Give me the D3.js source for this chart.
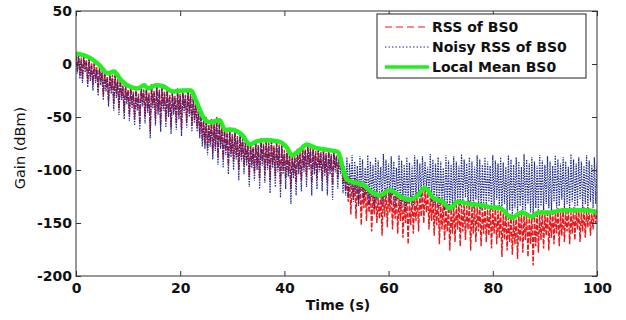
<!DOCTYPE html>
<html>
<head>
<meta charset="utf-8">
<script src="https://cdn.jsdelivr.net/npm/d3@7"></script>
<style>
  body { margin: 0; background: #fff; }
  text { font-family: "DejaVu Sans", Verdana, sans-serif; font-weight: bold; fill: #111; }
</style>
</head>
<body>
<div id="chart"></div>
<script>
// sampling step of the RSS traces (s)
const sampleStep = 0.25;

const rssBS0 = [
  // 0 - 22.75 s
  8,-6,11,-10,6,-14,9,-5,4,-18,7,-12,1,-20,3,-14,-3,-26,-2,-16,-6,-30,-4,-22,-12,-35,-7,-24,-10,-38,-9,-28,-14,-42,-13,-30,-20,-46,-18,-34,-24,-48,-20,-38,-26,-52,-22,-40,-28,-56,-20,-36,-24,-50,-21,-42,-27,-64,-19,-38,-25,-52,-18,-44,-24,-58,-20,-40,-26,-54,-22,-46,-29,-60,-24,-44,-30,-56,-23,-48,-28,-62,-24,-42,-29,-55,-23,-46,-28,-58,-30,-52,
  // 23 - 51.75 s
  -36,-60,-42,-66,-45,-72,-52,-76,-50,-80,-57,-74,-52,-84,-56,-78,-50,-88,-55,-76,-58,-90,-60,-82,-64,-95,-60,-84,-66,-92,-62,-86,-68,-100,-64,-88,-70,-96,-72,-92,-75,-106,-74,-94,-78,-102,-72,-96,-76,-108,-70,-92,-75,-104,-71,-96,-74,-110,-70,-94,-77,-106,-72,-98,-76,-114,-75,-100,-81,-108,-80,-102,-85,-118,-84,-104,-87,-112,-80,-100,-83,-110,-78,-98,-80,-106,-75,-96,-79,-112,-77,-100,-82,-108,-79,-98,-83,-110,-80,-102,-84,-112,-80,-100,-85,-114,-81,-98,-86,-108,-82,-100,-88,-112,-100,-120,
  // 52 - 100 s
  -108,-130,-106,-142,-112,-128,-108,-146,-114,-132,-110,-152,-115,-136,-113,-148,-119,-140,-117,-158,-123,-142,-120,-150,-126,-146,-121,-162,-122,-144,-117,-154,-121,-140,-118,-156,-124,-146,-121,-160,-127,-148,-123,-164,-129,-150,-125,-170,-130,-152,-124,-160,-127,-148,-121,-158,-123,-144,-116,-150,-118,-140,-118,-156,-126,-148,-124,-162,-129,-152,-125,-170,-131,-156,-128,-166,-135,-158,-132,-176,-137,-160,-130,-168,-133,-156,-128,-172,-133,-158,-129,-166,-134,-156,-129,-176,-134,-160,-130,-168,-135,-158,-131,-172,-136,-160,-132,-168,-137,-162,-133,-174,-137,-160,-134,-170,-138,-164,-135,-182,-141,-166,-139,-176,-145,-168,-142,-180,-146,-170,-140,-184,-143,-168,-138,-178,-143,-166,-140,-182,-145,-170,-142,-190,-144,-172,-139,-178,-142,-166,-138,-174,-142,-162,-138,-176,-141,-164,-137,-170,-140,-160,-136,-172,-140,-162,-136,-168,-139,-158,-136,-170,-140,-160,-135,-166,-139,-156,-136,-168,-140,-158,-135,-164,-139,-154,-136,-162,-141,-156,-137,-150,
  -142
];

const noisyRssBS0 = [
  // 0 - 22.75 s
  6,-9,9,-14,3,-18,7,-8,1,-22,5,-16,-2,-25,0,-18,-6,-30,-4,-20,-9,-34,-7,-26,-14,-40,-10,-28,-13,-44,-11,-32,-17,-48,-15,-34,-22,-52,-20,-38,-26,-54,-23,-42,-28,-58,-25,-44,-30,-62,-22,-40,-26,-56,-24,-46,-29,-70,-21,-42,-27,-58,-21,-48,-26,-64,-22,-44,-28,-60,-24,-50,-31,-66,-27,-48,-32,-62,-25,-52,-30,-68,-26,-46,-31,-60,-25,-50,-30,-64,-33,-56,
  // 23 - 51.75 s
  -38,-64,-44,-70,-47,-78,-54,-80,-52,-86,-59,-78,-54,-90,-58,-82,-52,-95,-57,-80,-60,-98,-62,-86,-66,-104,-62,-88,-68,-100,-64,-90,-70,-110,-66,-92,-72,-104,-74,-96,-77,-116,-76,-98,-80,-110,-74,-100,-78,-118,-72,-96,-77,-112,-73,-100,-76,-122,-72,-98,-79,-116,-74,-102,-78,-126,-77,-104,-83,-118,-82,-106,-87,-132,-86,-108,-89,-124,-82,-104,-85,-120,-80,-102,-82,-116,-77,-100,-81,-124,-79,-104,-84,-118,-81,-102,-85,-120,-82,-106,-86,-124,-82,-104,-87,-128,-83,-102,-88,-118,-84,-104,-90,-122,-96,-124,
  // 52 - 100 s
  -88,-126,-94,-118,-86,-130,-92,-122,-96,-134,-87,-120,-90,-128,-98,-124,-86,-132,-92,-126,-95,-136,-88,-128,-91,-122,-97,-134,-85,-126,-90,-120,-94,-130,-87,-124,-92,-134,-98,-128,-86,-136,-91,-130,-95,-138,-88,-132,-93,-126,-96,-134,-86,-128,-90,-122,-94,-126,-87,-118,-92,-116,-97,-124,-85,-130,-90,-134,-94,-126,-88,-136,-92,-130,-98,-138,-86,-134,-91,-140,-95,-136,-87,-130,-92,-128,-96,-134,-85,-132,-90,-126,-94,-134,-88,-130,-92,-136,-97,-128,-86,-134,-90,-138,-95,-132,-88,-136,-92,-130,-96,-138,-86,-134,-91,-128,-94,-136,-88,-138,-93,-132,-97,-142,-86,-138,-90,-144,-95,-136,-88,-140,-92,-134,-97,-142,-85,-138,-90,-132,-94,-140,-88,-146,-92,-136,-96,-140,-86,-134,-91,-138,-95,-132,-87,-136,-92,-140,-96,-130,-86,-136,-90,-134,-94,-128,-88,-136,-92,-132,-97,-138,-85,-130,-90,-136,-94,-134,-88,-128,-92,-136,-96,-132,-86,-138,-91,-130,-95,-136,-88,-132,
  -94
];

const meanTime = [0,2.6,4.5,6.1,7.3,8.6,10.2,11.9,13.1,13.8,15.4,16.7,18.6,20.5,22.1,23.0,24.4,25.7,27.6,28.6,29.9,31.9,33.4,34.7,36.6,38.8,40.5,41.4,43,44.3,45.9,48.2,50.3,51.2,52,53.6,55.1,56.8,58.3,60.3,62.2,64.1,65.4,67,68.5,70.4,71.8,73.3,75.4,77.5,79.5,81.4,83.7,85.6,87.5,88.7,91,93.5,95.4,98,100];
const meanBS0 = [10,6,-1,-9,-7,-15,-21,-23,-20,-23,-20,-21,-26,-25,-25,-34,-50,-55,-53,-62,-62,-67,-76,-73,-72,-73,-79,-86,-81,-76,-79,-81,-83,-98,-109,-112,-114,-121,-124,-119,-125,-128,-125,-117,-126,-130,-136,-130,-132,-133,-135,-136,-145,-140,-144,-140,-140,-138,-138,-138,-140];

const xTicks = [0, 20, 40, 60, 80, 100];
const yTicks = [50, 0, -50, -100, -150, -200];
const legendLabels = ["RSS of BS0", "Noisy RSS of BS0", "Local Mean BS0"];

const W = 626, H = 320;
const margin = { top: 11, right: 29, bottom: 44, left: 76 };
const width = W - margin.left - margin.right;
const height = H - margin.top - margin.bottom;

const svg = d3.select("#chart").append("svg")
  .attr("width", W).attr("height", H);
svg.append("rect").attr("width", W).attr("height", H).attr("fill", "#fff");

const g = svg.append("g").attr("transform", `translate(${margin.left},${margin.top})`);

const x = d3.scaleLinear().domain([0, 100]).range([0, width]);
const y = d3.scaleLinear().domain([-200, 50]).range([height, 0]);

g.append("clipPath").attr("id", "clip")
  .append("rect").attr("width", width).attr("height", height);

const plot = g.append("g").attr("clip-path", "url(#clip)");

const traceLine = d3.line()
  .x((d, i) => x(i * sampleStep))
  .y(d => y(d));

const styles = [
  { color: "#e8181c", width: 1.4, dash: "5,1.5" },
  { color: "#1c2a8e", width: 1.2, dash: "1.4,1.2" },
  { color: "#22ee22", width: 4.5, dash: null }
];

plot.append("path").datum(rssBS0)
  .attr("fill", "none").attr("stroke", styles[0].color)
  .attr("stroke-width", styles[0].width).attr("stroke-dasharray", styles[0].dash)
  .attr("d", traceLine);

plot.append("path").datum(noisyRssBS0)
  .attr("fill", "none").attr("stroke", styles[1].color)
  .attr("stroke-width", styles[1].width).attr("stroke-dasharray", styles[1].dash)
  .attr("d", traceLine);

const meanLine = d3.line()
  .x((d, i) => x(meanTime[i]))
  .y(d => y(d))
  .curve(d3.curveMonotoneX);

plot.append("path").datum(meanBS0)
  .attr("fill", "none").attr("stroke", styles[2].color)
  .attr("stroke-width", styles[2].width).attr("stroke-linejoin", "round")
  .attr("d", meanLine);

// axes, MATLAB style: ticks inside, on all four sides
const axisColor = "#333";
const tickLen = 5;
const plainNum = d => String(d);

g.append("g").attr("transform", `translate(0,${height})`)
  .call(d3.axisBottom(x).tickValues(xTicks).tickSize(-tickLen).tickPadding(7).tickFormat(plainNum))
  .call(a => a.select(".domain").remove());
g.append("g")
  .call(d3.axisTop(x).tickValues(xTicks).tickSize(-tickLen).tickFormat(""))
  .call(a => a.select(".domain").remove());
g.append("g")
  .call(d3.axisLeft(y).tickValues(yTicks).tickSize(-tickLen).tickPadding(4).tickFormat(plainNum))
  .call(a => a.select(".domain").remove());
g.append("g").attr("transform", `translate(${width},0)`)
  .call(d3.axisRight(y).tickValues(yTicks).tickSize(-tickLen).tickFormat(""))
  .call(a => a.select(".domain").remove());

g.selectAll(".tick line").attr("stroke", axisColor);
g.selectAll(".tick text").style("font-size", "14px").attr("fill", "#111");

g.append("rect")
  .attr("width", width).attr("height", height)
  .attr("fill", "none").attr("stroke", axisColor).attr("stroke-width", 1);

// axis labels
svg.append("text")
  .attr("x", 338).attr("y", 310)
  .attr("text-anchor", "middle").style("font-size", "14px")
  .text("Time (s)");

svg.append("text")
  .attr("transform", "translate(25,148) rotate(-90)")
  .attr("text-anchor", "middle")
  .style("font-size", "14.5px").style("font-weight", "normal")
  .text("Gain (dBm)");

// legend
const legend = svg.append("g").attr("transform", "translate(377,14)");
legend.append("rect")
  .attr("width", 209).attr("height", 64)
  .attr("fill", "#fff").attr("stroke", "#222").attr("stroke-width", 1);

legendLabels.forEach((label, i) => {
  const row = legend.append("g").attr("transform", `translate(0,${13 + i * 20})`);
  row.append("line")
    .attr("x1", 8).attr("x2", 52)
    .attr("stroke", styles[i].color)
    .attr("stroke-width", i === 2 ? 3.5 : 1)
    .attr("stroke-dasharray", i === 0 ? "7,4" : (i === 1 ? "1.5,2" : null));
  row.append("text")
    .attr("x", 55).attr("dy", "0.35em")
    .style("font-size", "14px")
    .text(label);
});
</script>
</body>
</html>
